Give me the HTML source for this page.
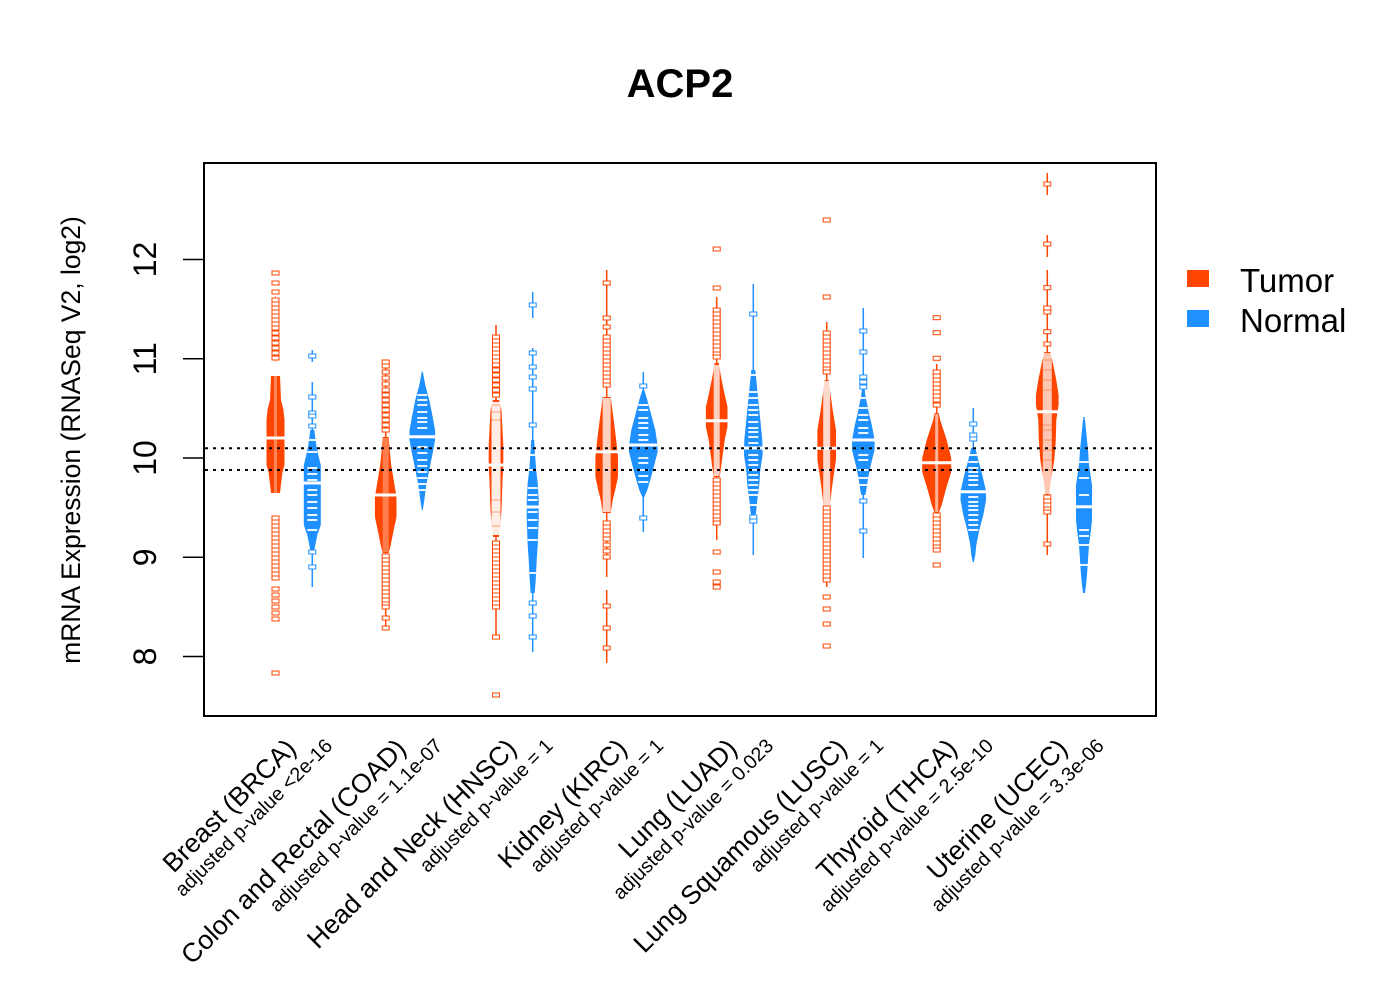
<!DOCTYPE html>
<html>
<head>
<meta charset="utf-8">
<style>
  html,body{margin:0;padding:0;background:#fff;}
  svg{display:block;}
  text{font-family:"Liberation Sans",Arial,Helvetica,sans-serif;fill:#000;}
</style>
</head>
<body>
<svg width="1400" height="1000" viewBox="0 0 1400 1000" xmlns="http://www.w3.org/2000/svg">
<defs>
  <rect id="mt" x="-3.5" y="-2" width="7" height="4" fill="#fff" stroke="#FF4500" stroke-width="1"/>
  <rect id="mn" x="-3.5" y="-2" width="7" height="4" fill="#fff" stroke="#1E90FF" stroke-width="1"/>
  <rect id="bl" x="-5" y="-1" width="10" height="2" fill="#fff" opacity="0.9"/>
  <rect id="ol" x="-4.5" y="-0.5" width="9" height="1" fill="#FF4500" opacity="0.45"/>
</defs>
<rect width="1400" height="1000" fill="#fff"/>

<!-- Title -->
<text x="680" y="97" font-size="40" font-weight="bold" text-anchor="middle">ACP2</text>

<!-- Y axis -->
<g stroke="#000" stroke-width="1.5">
  <line x1="183" y1="259.5" x2="204" y2="259.5"/>
  <line x1="183" y1="358.8" x2="204" y2="358.8"/>
  <line x1="183" y1="458" x2="204" y2="458"/>
  <line x1="183" y1="557.3" x2="204" y2="557.3"/>
  <line x1="183" y1="656.5" x2="204" y2="656.5"/>
</g>
<g font-size="32" text-anchor="middle">
  <text transform="translate(156,259.5) rotate(-90)">12</text>
  <text transform="translate(156,358.8) rotate(-90)">11</text>
  <text transform="translate(156,458) rotate(-90)">10</text>
  <text transform="translate(156,557.3) rotate(-90)">9</text>
  <text transform="translate(156,656.5) rotate(-90)">8</text>
</g>
<text transform="translate(80,440) rotate(-90)" font-size="26.5" text-anchor="middle">mRNA Expression (RNASeq V2, log2)</text>

<!-- ===== Beans ===== -->
<!-- 1 Breast tumor -->
<g transform="translate(275.5,0)">
  <line x1="0" y1="296" x2="0" y2="362" stroke="#FF4500" stroke-width="1" opacity="0.5"/>
  <polygon fill="#FF4500" points="-4.5,376 -5.5,400 -8,410 -9,420 -9,465 -7,472 -6,480 -4.5,493 4.5,493 6,480 7,472 9,465 9,420 8,410 5.5,400 4.5,376"/>
  <rect x="-1.5" y="376" width="3" height="117" fill="#fff" opacity="0.35"/>
  <use href="#mt" y="273"/><use href="#mt" y="283"/><use href="#mt" y="292"/><use href="#mt" y="300"/><use href="#mt" y="304"/><use href="#mt" y="308"/><use href="#mt" y="312"/><use href="#mt" y="316"/><use href="#mt" y="320"/><use href="#mt" y="324"/><use href="#mt" y="328"/><use href="#mt" y="333"/><use href="#mt" y="338"/><use href="#mt" y="343"/><use href="#mt" y="348"/><use href="#mt" y="353"/><use href="#mt" y="358"/>
  <use href="#mt" y="518"/><use href="#mt" y="522"/><use href="#mt" y="526"/><use href="#mt" y="530"/><use href="#mt" y="534"/><use href="#mt" y="538"/><use href="#mt" y="542"/><use href="#mt" y="546"/><use href="#mt" y="550"/><use href="#mt" y="554"/><use href="#mt" y="558"/><use href="#mt" y="562"/><use href="#mt" y="566"/><use href="#mt" y="570"/><use href="#mt" y="574"/><use href="#mt" y="578"/><use href="#mt" y="589"/><use href="#mt" y="595"/><use href="#mt" y="601"/><use href="#mt" y="607"/><use href="#mt" y="613"/><use href="#mt" y="619"/><use href="#mt" y="673"/>
  <line x1="-11" y1="438" x2="11" y2="438" stroke="#fff" stroke-width="3"/>
</g>

<!-- 2 Breast normal -->
<g transform="translate(312.3,0)">
  <line x1="0" y1="350" x2="0" y2="362" stroke="#1E90FF" stroke-width="1.5"/>
  <line x1="0" y1="382" x2="0" y2="587" stroke="#1E90FF" stroke-width="1.5"/>
  <polygon fill="#1E90FF" points="-2,430 -4,445 -6,455 -8.5,465 -8.5,525 -5,535 -3,545 -2,550 2,550 3,545 5,535 8.5,525 8.5,465 6,455 4,445 2,430"/>
  <use href="#mn" y="356"/><use href="#mn" y="397"/><use href="#mn" y="413"/><use href="#mn" y="416"/><use href="#mn" y="426"/><use href="#mn" y="552"/><use href="#mn" y="567"/>
  <use href="#bl" y="440"/><use href="#bl" y="452"/><use href="#bl" y="468"/><use href="#bl" y="474"/><use href="#bl" y="480"/><use href="#bl" y="490"/><use href="#bl" y="495"/><use href="#bl" y="502"/><use href="#bl" y="508"/><use href="#bl" y="515"/><use href="#bl" y="520"/><use href="#bl" y="530"/>
  <line x1="-10" y1="483" x2="10" y2="483" stroke="#fff" stroke-width="3"/>
</g>

<!-- 3 Colon tumor -->
<g transform="translate(385.7,0)">
  <line x1="0" y1="362" x2="0" y2="628" stroke="#FF4500" stroke-width="1.5"/>
  <polygon fill="#FF4500" points="-3,437 -4,450 -5.5,465 -8,480 -10.8,497 -10.8,517 -8,530 -5,545 -3,553 3,553 5,545 8,530 10.8,517 10.8,497 8,480 5.5,465 4,450 3,437"/>
  <rect x="-3" y="438" width="6" height="114" fill="#fff" opacity="0.3"/>
  <use href="#mt" y="362"/><use href="#mt" y="366"/><use href="#mt" y="372"/><use href="#mt" y="378"/><use href="#mt" y="384"/><use href="#mt" y="390"/><use href="#mt" y="395"/><use href="#mt" y="400"/><use href="#mt" y="405"/><use href="#mt" y="410"/><use href="#mt" y="415"/><use href="#mt" y="420"/><use href="#mt" y="425"/><use href="#mt" y="430"/>
  <use href="#mt" y="556"/><use href="#mt" y="560"/><use href="#mt" y="564"/><use href="#mt" y="568"/><use href="#mt" y="572"/><use href="#mt" y="576"/><use href="#mt" y="580"/><use href="#mt" y="584"/><use href="#mt" y="588"/><use href="#mt" y="592"/><use href="#mt" y="596"/><use href="#mt" y="600"/><use href="#mt" y="604"/><use href="#mt" y="607"/><use href="#mt" y="618"/><use href="#mt" y="628"/>
  <line x1="-12" y1="495" x2="12" y2="495" stroke="#fff" stroke-width="3"/>
</g>

<!-- 4 Colon normal -->
<g transform="translate(422.3,0)">
  <polygon fill="#1E90FF" points="-0.5,371.7 -3,385 -7,400 -10,415 -12.8,430 -12.8,440 -10,455 -7,470 -4,485 -2,500 -0.5,510 0.5,510 2,500 4,485 7,470 10,455 12.8,440 12.8,430 10,415 7,400 3,385 0.5,371.7"/>
  <use href="#bl" y="395"/><use href="#bl" y="400"/><use href="#bl" y="405"/><use href="#bl" y="412"/><use href="#bl" y="418"/><use href="#bl" y="422"/><use href="#bl" y="428"/><use href="#bl" y="447"/><use href="#bl" y="453"/><use href="#bl" y="460"/><use href="#bl" y="466"/><use href="#bl" y="472"/><use href="#bl" y="478"/><use href="#bl" y="484"/><use href="#bl" y="490"/>
  <line x1="-14" y1="436.7" x2="14" y2="436.7" stroke="#fff" stroke-width="3"/>
</g>

<!-- 5 HNSC tumor -->
<g transform="translate(496,0)">
  <line x1="0" y1="325" x2="0" y2="637" stroke="#FF4500" stroke-width="1.5"/>
  <polygon fill="#FF4500" points="-3,400 -5.5,410 -6.5,430 -7.3,445 -7.3,467 -6.5,480 -5.5,510 -4,530 -3,537 3,537 4,530 5.5,510 6.5,480 7.3,467 7.3,445 6.5,430 5.5,410 3,400"/>
  <rect x="-4.5" y="402" width="9" height="133" fill="#fff" opacity="0.9"/>
  <use href="#ol" y="405"/><use href="#ol" y="412"/><use href="#ol" y="420"/><use href="#ol" y="500"/><use href="#ol" y="512"/><use href="#ol" y="526"/>
  <use href="#mt" y="337"/><use href="#mt" y="341"/><use href="#mt" y="345"/><use href="#mt" y="349"/><use href="#mt" y="353"/><use href="#mt" y="357"/><use href="#mt" y="361"/><use href="#mt" y="365"/><use href="#mt" y="370"/><use href="#mt" y="375"/><use href="#mt" y="380"/><use href="#mt" y="385"/><use href="#mt" y="390"/><use href="#mt" y="395"/>
  <use href="#mt" y="543"/><use href="#mt" y="547"/><use href="#mt" y="551"/><use href="#mt" y="555"/><use href="#mt" y="559"/><use href="#mt" y="563"/><use href="#mt" y="567"/><use href="#mt" y="571"/><use href="#mt" y="575"/><use href="#mt" y="579"/><use href="#mt" y="583"/><use href="#mt" y="587"/><use href="#mt" y="591"/><use href="#mt" y="595"/><use href="#mt" y="599"/><use href="#mt" y="603"/><use href="#mt" y="607"/><use href="#mt" y="637"/><use href="#mt" y="695"/>
  <line x1="-10" y1="465" x2="10" y2="465" stroke="#fff" stroke-width="3"/>
</g>

<!-- 6 HNSC normal -->
<g transform="translate(532.7,0)">
  <line x1="0" y1="292" x2="0" y2="318" stroke="#1E90FF" stroke-width="1.5"/>
  <line x1="0" y1="348" x2="0" y2="652" stroke="#1E90FF" stroke-width="1.5"/>
  <polygon fill="#1E90FF" points="-1.5,440 -2,450 -3.5,470 -5,483 -6,500 -6,520 -5,545 -4,560 -3,580 -2,593 2,593 3,580 4,560 5,545 6,520 6,500 5,483 3.5,470 2,450 1.5,440"/>
  <use href="#mn" y="305"/><use href="#mn" y="353"/><use href="#mn" y="367"/><use href="#mn" y="377"/><use href="#mn" y="389"/><use href="#mn" y="425"/><use href="#mn" y="603"/><use href="#mn" y="616"/><use href="#mn" y="637"/>
  <use href="#bl" y="455"/><use href="#bl" y="470"/><use href="#bl" y="488"/><use href="#bl" y="495"/><use href="#bl" y="500"/><use href="#bl" y="512"/><use href="#bl" y="520"/><use href="#bl" y="528"/><use href="#bl" y="540"/><use href="#bl" y="573"/>
  <line x1="-8" y1="507" x2="8" y2="507" stroke="#fff" stroke-width="3"/>
</g>

<!-- 7 Kidney tumor -->
<g transform="translate(606.7,0)">
  <line x1="0" y1="270" x2="0" y2="577" stroke="#FF4500" stroke-width="1.5"/>
  <line x1="0" y1="590" x2="0" y2="663" stroke="#FF4500" stroke-width="1.5"/>
  <polygon fill="#FF4500" points="-4,397 -5,405 -7,420 -9.5,440 -11.3,457 -11.3,477 -8.5,490 -6,500 -4,513 4,513 6,500 8.5,490 11.3,477 11.3,457 9.5,440 7,420 5,405 4,397"/>
  <rect x="-4" y="398" width="8" height="114" fill="#fff" opacity="0.75"/>
  <use href="#mt" y="283"/><use href="#mt" y="318"/><use href="#mt" y="327"/><use href="#mt" y="337"/><use href="#mt" y="341"/><use href="#mt" y="345"/><use href="#mt" y="349"/><use href="#mt" y="353"/><use href="#mt" y="357"/><use href="#mt" y="361"/><use href="#mt" y="365"/><use href="#mt" y="369"/><use href="#mt" y="373"/><use href="#mt" y="377"/><use href="#mt" y="381"/><use href="#mt" y="385"/>
  <use href="#mt" y="523"/><use href="#mt" y="527"/><use href="#mt" y="531"/><use href="#mt" y="535"/><use href="#mt" y="539"/><use href="#mt" y="545"/><use href="#mt" y="551"/><use href="#mt" y="557"/><use href="#mt" y="606"/><use href="#mt" y="628"/><use href="#mt" y="648"/>
  <line x1="-13" y1="451.7" x2="13" y2="451.7" stroke="#fff" stroke-width="3"/>
</g>

<!-- 8 Kidney normal -->
<g transform="translate(643.3,0)">
  <line x1="0" y1="372" x2="0" y2="532" stroke="#1E90FF" stroke-width="1.5"/>
  <polygon fill="#1E90FF" points="-1,390 -4,400 -8,415 -12,430 -14.3,445 -14.3,452 -11,465 -7,480 -4,490 -1,497 1,497 4,490 7,480 11,465 14.3,452 14.3,445 12,430 8,415 4,400 1,390"/>
  <use href="#mn" y="386"/><use href="#mn" y="518"/>
  <use href="#bl" y="405"/><use href="#bl" y="410"/><use href="#bl" y="418"/><use href="#bl" y="423"/><use href="#bl" y="428"/><use href="#bl" y="435"/><use href="#bl" y="440"/><use href="#bl" y="458"/><use href="#bl" y="463"/><use href="#bl" y="470"/><use href="#bl" y="476"/><use href="#bl" y="482"/>
  <line x1="-16" y1="445" x2="16" y2="445" stroke="#fff" stroke-width="3"/>
</g>

<!-- 9 LUAD tumor -->
<g transform="translate(716.7,0)">
  <line x1="0" y1="297" x2="0" y2="540" stroke="#FF4500" stroke-width="1.5"/>
  <polygon fill="#FF4500" points="-2,363 -4,375 -7,390 -10.8,407 -10.8,427 -8,440 -6,455 -4,470 -3,477 3,477 4,470 6,455 8,440 10.8,427 10.8,407 7,390 4,375 2,363"/>
  <rect x="-3" y="365" width="6" height="111" fill="#fff" opacity="0.75"/>
  <use href="#mt" y="249"/><use href="#mt" y="288"/>
  <use href="#mt" y="310"/><use href="#mt" y="314"/><use href="#mt" y="318"/><use href="#mt" y="322"/><use href="#mt" y="326"/><use href="#mt" y="330"/><use href="#mt" y="334"/><use href="#mt" y="338"/><use href="#mt" y="342"/><use href="#mt" y="346"/><use href="#mt" y="350"/><use href="#mt" y="354"/><use href="#mt" y="357"/>
  <use href="#mt" y="480"/><use href="#mt" y="484"/><use href="#mt" y="488"/><use href="#mt" y="492"/><use href="#mt" y="496"/><use href="#mt" y="500"/><use href="#mt" y="504"/><use href="#mt" y="508"/><use href="#mt" y="512"/><use href="#mt" y="516"/><use href="#mt" y="520"/><use href="#mt" y="523"/><use href="#mt" y="552"/><use href="#mt" y="572"/><use href="#mt" y="582"/><use href="#mt" y="587"/>
  <line x1="-12" y1="420.7" x2="12" y2="420.7" stroke="#fff" stroke-width="3"/>
</g>

<!-- 10 LUAD normal -->
<g transform="translate(753.3,0)">
  <line x1="0" y1="284" x2="0" y2="555" stroke="#1E90FF" stroke-width="1.5"/>
  <polygon fill="#1E90FF" points="-2,370 -3,380 -5,400 -7,420 -9,440 -9.3,455 -7,470 -6,485 -4,500 -3,510 -2,517 2,517 3,510 4,500 6,485 7,470 9.3,455 9,440 7,420 5,400 3,380 2,370"/>
  <use href="#mn" y="314"/><use href="#mn" y="517"/><use href="#mn" y="521"/>
  <use href="#bl" y="375"/><use href="#bl" y="392"/><use href="#bl" y="398"/><use href="#bl" y="405"/><use href="#bl" y="410"/><use href="#bl" y="415"/><use href="#bl" y="422"/><use href="#bl" y="428"/><use href="#bl" y="432"/><use href="#bl" y="437"/><use href="#bl" y="443"/><use href="#bl" y="455"/><use href="#bl" y="460"/><use href="#bl" y="465"/><use href="#bl" y="470"/><use href="#bl" y="475"/><use href="#bl" y="480"/><use href="#bl" y="485"/><use href="#bl" y="490"/><use href="#bl" y="495"/><use href="#bl" y="505"/>
  <line x1="-11" y1="448" x2="11" y2="448" stroke="#fff" stroke-width="3"/>
</g>

<!-- 11 LUSC tumor -->
<g transform="translate(826.7,0)">
  <line x1="0" y1="322" x2="0" y2="587" stroke="#FF4500" stroke-width="1.5"/>
  <polygon fill="#FF4500" points="-2,380 -4,395 -6,410 -9.3,430 -9.3,460 -7,475 -5,490 -3,507 3,507 5,490 7,475 9.3,460 9.3,430 6,410 4,395 2,380"/>
  <rect x="-3.5" y="381" width="7" height="125" fill="#fff" opacity="0.8"/>
  <use href="#mt" y="220"/><use href="#mt" y="297"/>
  <use href="#mt" y="333"/><use href="#mt" y="337"/><use href="#mt" y="341"/><use href="#mt" y="345"/><use href="#mt" y="349"/><use href="#mt" y="353"/><use href="#mt" y="357"/><use href="#mt" y="361"/><use href="#mt" y="365"/><use href="#mt" y="369"/><use href="#mt" y="372"/>
  <use href="#mt" y="508"/><use href="#mt" y="512"/><use href="#mt" y="516"/><use href="#mt" y="520"/><use href="#mt" y="524"/><use href="#mt" y="528"/><use href="#mt" y="532"/><use href="#mt" y="536"/><use href="#mt" y="540"/><use href="#mt" y="544"/><use href="#mt" y="548"/><use href="#mt" y="552"/><use href="#mt" y="556"/><use href="#mt" y="560"/><use href="#mt" y="564"/><use href="#mt" y="568"/><use href="#mt" y="572"/><use href="#mt" y="576"/><use href="#mt" y="580"/><use href="#mt" y="597"/><use href="#mt" y="609"/><use href="#mt" y="624"/><use href="#mt" y="646"/>
  <line x1="-11" y1="448.3" x2="11" y2="448.3" stroke="#fff" stroke-width="3"/>
</g>

<!-- 12 LUSC normal -->
<g transform="translate(863.3,0)">
  <line x1="0" y1="308" x2="0" y2="558" stroke="#1E90FF" stroke-width="1.5"/>
  <polygon fill="#1E90FF" points="-1,385 -2,395 -4,405 -6,415 -8.5,425 -11.3,440 -11.3,450 -7.5,465 -5,477 -3,490 -2,495 2,495 3,490 5,477 7.5,465 11.3,450 11.3,440 8.5,425 6,415 4,405 2,395 1,385"/>
  <use href="#mn" y="331"/><use href="#mn" y="352"/><use href="#mn" y="377"/><use href="#mn" y="382"/><use href="#mn" y="387"/><use href="#mn" y="501"/><use href="#mn" y="531"/>
  <use href="#bl" y="398"/><use href="#bl" y="408"/><use href="#bl" y="415"/><use href="#bl" y="420"/><use href="#bl" y="428"/><use href="#bl" y="433"/><use href="#bl" y="455"/><use href="#bl" y="460"/><use href="#bl" y="470"/><use href="#bl" y="478"/><use href="#bl" y="485"/>
  <line x1="-13" y1="440" x2="13" y2="440" stroke="#fff" stroke-width="3"/>
</g>

<!-- 13 THCA tumor -->
<g transform="translate(936.7,0)">
  <line x1="0" y1="364" x2="0" y2="550" stroke="#FF4500" stroke-width="1.5"/>
  <polygon fill="#FF4500" points="-2,413 -3.5,420 -10,440 -14.5,458 -14.5,472 -9,490 -5,505 -2,513 2,513 5,505 9,490 14.5,472 14.5,458 10,440 3.5,420 2,413"/>
  <rect x="-1.5" y="414" width="3" height="98" fill="#fff" opacity="0.6"/>
  <use href="#mt" y="317.7"/><use href="#mt" y="332.7"/><use href="#mt" y="358.3"/>
  <use href="#mt" y="372"/><use href="#mt" y="376"/><use href="#mt" y="380"/><use href="#mt" y="384"/><use href="#mt" y="388"/><use href="#mt" y="392"/><use href="#mt" y="396"/><use href="#mt" y="400"/><use href="#mt" y="405"/>
  <use href="#mt" y="515"/><use href="#mt" y="519"/><use href="#mt" y="523"/><use href="#mt" y="527"/><use href="#mt" y="531"/><use href="#mt" y="535"/><use href="#mt" y="539"/><use href="#mt" y="543"/><use href="#mt" y="547"/><use href="#mt" y="550"/><use href="#mt" y="565"/>
  <line x1="-15" y1="462.7" x2="15" y2="462.7" stroke="#fff" stroke-width="3"/>
</g>

<!-- 14 THCA normal -->
<g transform="translate(973.3,0)">
  <line x1="0" y1="408" x2="0" y2="562" stroke="#1E90FF" stroke-width="1.5"/>
  <polygon fill="#1E90FF" points="-2,448 -5,460 -9,475 -12.5,490 -12.8,500 -10,515 -6,530 -3,545 -2,555 -0.5,562 0.5,562 2,555 3,545 6,530 10,515 12.8,500 12.5,490 9,475 5,460 2,448"/>
  <use href="#mn" y="424"/><use href="#mn" y="435"/><use href="#mn" y="439"/>
  <use href="#bl" y="455"/><use href="#bl" y="462"/><use href="#bl" y="468"/><use href="#bl" y="472"/><use href="#bl" y="476"/><use href="#bl" y="480"/><use href="#bl" y="485"/><use href="#bl" y="497"/><use href="#bl" y="502"/><use href="#bl" y="506"/><use href="#bl" y="510"/><use href="#bl" y="515"/><use href="#bl" y="520"/><use href="#bl" y="525"/><use href="#bl" y="530"/>
  <line x1="-14" y1="491.7" x2="14" y2="491.7" stroke="#fff" stroke-width="3"/>
</g>

<!-- 15 UCEC tumor -->
<g transform="translate(1047.3,0)">
  <line x1="0" y1="173" x2="0" y2="195" stroke="#FF4500" stroke-width="1.5"/>
  <line x1="0" y1="235" x2="0" y2="257" stroke="#FF4500" stroke-width="1.5"/>
  <line x1="0" y1="270" x2="0" y2="555" stroke="#FF4500" stroke-width="1.5"/>
  <polygon fill="#FF4500" points="-3,352 -6,365 -9,380 -11.3,395 -11.3,405 -9,420 -8.5,440 -7,460 -5,472 -3,485 -2,495 2,495 3,485 5,472 7,460 8.5,440 9,420 11.3,405 11.3,395 9,380 6,365 3,352"/>
  <rect x="-4.5" y="353" width="9" height="141" fill="#fff" opacity="0.7"/>
  <use href="#ol" y="360"/><use href="#ol" y="370"/><use href="#ol" y="380"/><use href="#ol" y="390"/><use href="#ol" y="425"/><use href="#ol" y="430"/><use href="#ol" y="440"/><use href="#ol" y="450"/><use href="#ol" y="460"/><use href="#ol" y="470"/>
  <use href="#mt" y="184"/><use href="#mt" y="244"/><use href="#mt" y="287.7"/><use href="#mt" y="308"/><use href="#mt" y="312"/><use href="#mt" y="331.7"/><use href="#mt" y="344"/>
  <use href="#mt" y="497"/><use href="#mt" y="501"/><use href="#mt" y="505"/><use href="#mt" y="509"/><use href="#mt" y="512"/><use href="#mt" y="544"/>
  <line x1="-12" y1="411.7" x2="12" y2="411.7" stroke="#fff" stroke-width="3"/>
</g>

<!-- 16 UCEC normal -->
<g transform="translate(1084,0)">
  <line x1="0" y1="417" x2="0" y2="593" stroke="#1E90FF" stroke-width="1.5"/>
  <polygon fill="#1E90FF" points="-1,420 -2.5,435 -4,450 -5,465 -8,485 -8,520 -7,530 -5,545 -4,560 -3,575 -2,585 -1,593 1,593 2,585 3,575 4,560 5,545 7,530 8,520 8,485 5,465 4,450 2.5,435 1,420"/>
  <use href="#bl" y="462"/><use href="#bl" y="478"/><use href="#bl" y="495"/><use href="#bl" y="530"/><use href="#bl" y="536"/><use href="#bl" y="545"/><use href="#bl" y="565"/>
  <line x1="-9" y1="506.7" x2="9" y2="506.7" stroke="#fff" stroke-width="3"/>
</g>

<!-- Dotted reference lines -->
<g stroke="#000" stroke-width="2" stroke-dasharray="3 5">
  <line x1="205" y1="448.3" x2="1155" y2="448.3"/>
  <line x1="205" y1="470" x2="1155" y2="470"/>
</g>

<!-- Plot frame -->
<rect x="204" y="163" width="952" height="553" fill="none" stroke="#000" stroke-width="2"/>

<!-- X labels -->
<g font-size="26.5" text-anchor="end">
  <text transform="translate(297.5,750) rotate(-45)">Breast (BRCA)</text>
  <text transform="translate(407.5,750) rotate(-45)">Colon and Rectal (COAD)</text>
  <text transform="translate(518,750) rotate(-45)">Head and Neck (HNSC)</text>
  <text transform="translate(628.5,750) rotate(-45)">Kidney (KIRC)</text>
  <text transform="translate(738.5,750) rotate(-45)">Lung (LUAD)</text>
  <text transform="translate(848.5,750) rotate(-45)">Lung Squamous (LUSC)</text>
  <text transform="translate(958.5,750) rotate(-45)">Thyroid (THCA)</text>
  <text transform="translate(1069,750) rotate(-45)">Uterine (UCEC)</text>
</g>
<g font-size="19.8" text-anchor="end">
  <text transform="translate(333.5,747) rotate(-45)">adjusted p-value &lt;2e-16</text>
  <text transform="translate(443.5,747) rotate(-45)">adjusted p-value = 1.1e-07</text>
  <text transform="translate(554,747) rotate(-45)">adjusted p-value = 1</text>
  <text transform="translate(664.5,747) rotate(-45)">adjusted p-value = 1</text>
  <text transform="translate(774.5,747) rotate(-45)">adjusted p-value = 0.023</text>
  <text transform="translate(884.5,747) rotate(-45)">adjusted p-value = 1</text>
  <text transform="translate(994.5,747) rotate(-45)">adjusted p-value = 2.5e-10</text>
  <text transform="translate(1105,747) rotate(-45)">adjusted p-value = 3.3e-06</text>
</g>

<!-- Legend -->
<rect x="1187" y="270" width="22" height="17" fill="#FF4500"/>
<rect x="1187" y="310" width="22" height="17" fill="#1E90FF"/>
<text x="1240" y="292" font-size="33">Tumor</text>
<text x="1240" y="332" font-size="33">Normal</text>
</svg>
</body>
</html>
